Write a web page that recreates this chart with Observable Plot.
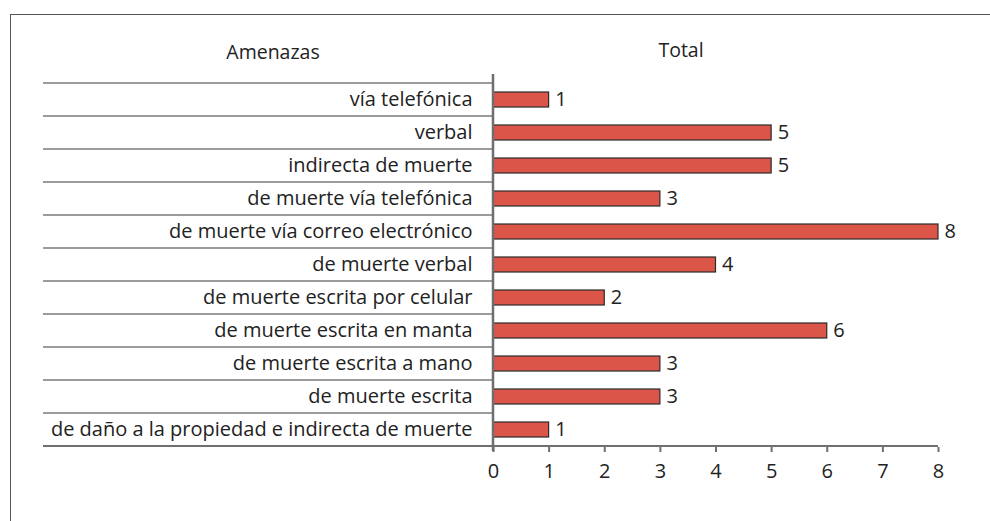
<!DOCTYPE html>
<html><head><meta charset="utf-8">
<script src="https://cdn.jsdelivr.net/npm/d3@7"></script>
<script src="https://cdn.jsdelivr.net/npm/@observablehq/plot@0.6"></script>
<style>
body{margin:0;background:#fff;}
#wrap{position:relative;width:990px;height:521px;overflow:hidden;font-family:"Open Sans",sans-serif;}
#frame{position:absolute;left:10px;top:14px;right:-5px;bottom:-5px;border-left:1.5px solid #555;border-top:1.5px solid #555;}
.hdr{position:absolute;font-size:19.5px;color:#222;transform:translateX(-50%);white-space:nowrap;line-height:1;}
#chart{position:absolute;left:0;top:0;}
</style></head><body>
<div id="wrap"><div id="frame"></div>
<div class="hdr" style="left:273px;top:42px">Amenazas</div>
<div class="hdr" style="left:681px;top:40px">Total</div>
<div id="chart"></div></div>
<script>
const categories = [
  "vía telefónica",
  "verbal",
  "indirecta de muerte",
  "de muerte vía telefónica",
  "de muerte vía correo electrónico",
  "de muerte verbal",
  "de muerte escrita por celular",
  "de muerte escrita en manta",
  "de muerte escrita a mano",
  "de muerte escrita",
  "de daño a la propiedad e indirecta de muerte"
];
const totals = [1, 5, 5, 3, 8, 4, 2, 6, 3, 3, 1];
const xTicks = [0, 1, 2, 3, 4, 5, 6, 7, 8];

const data = categories.map((c, i) => ({c, v: totals[i]}));

const plot = Plot.plot({
  width: 990, height: 521,
  marginTop: 82, marginBottom: 74, marginLeft: 493, marginRight: 52,
  style: {fontFamily: "'Open Sans', sans-serif", fontSize: "20px", color: "#222", background: "transparent", overflow: "visible"},
  x: {domain: [0, 8], ticks: xTicks},
  y: {domain: categories, padding: 0},
  marks: [
    Plot.barX(data, {x: "v", y: "c", fill: "#dc5549", stroke: "#2b2b2b", strokeWidth: 1.2, insetTop: 9, insetBottom: 9}),
    Plot.text(data, {x: "v", y: "c", text: d => String(d.v), textAnchor: "start", dx: 6, fill: "#222", fontSize: 20}),
    Plot.axisY({tickSize: 0, tickPadding: 21, label: null, fill: "#222", fontSize: 20}),
    Plot.axisX({ticks: xTicks, tickSize: 5, tickPadding: 11, label: null, stroke: "#6f6f6f", strokeWidth: 2, fill: "#222", fontSize: 20})
  ]
});
document.getElementById("chart").appendChild(plot);

const ys = plot.scale("y"), xs = plot.scale("x");
const svg = d3.select(plot);
const g = svg.append("g");
const bounds = categories.map(c => ys.apply(c));
bounds.push(bounds[bounds.length - 1] + ys.step);
const x0 = xs.apply(0);
g.selectAll("line.sep").data(bounds.slice(0, -1)).join("line")
  .attr("x1", 43).attr("x2", x0).attr("y1", d => d).attr("y2", d => d)
  .attr("stroke", "#7a7a7a").attr("stroke-width", 1.5);
const yb = bounds[bounds.length - 1];
g.append("line").attr("x1", 43).attr("x2", xs.apply(8)).attr("y1", yb).attr("y2", yb)
  .attr("stroke", "#6f6f6f").attr("stroke-width", 2);
g.append("line").attr("x1", x0).attr("x2", x0).attr("y1", bounds[0] - 9).attr("y2", yb + 5)
  .attr("stroke", "#6f6f6f").attr("stroke-width", 2.5);
</script>
</body></html>
